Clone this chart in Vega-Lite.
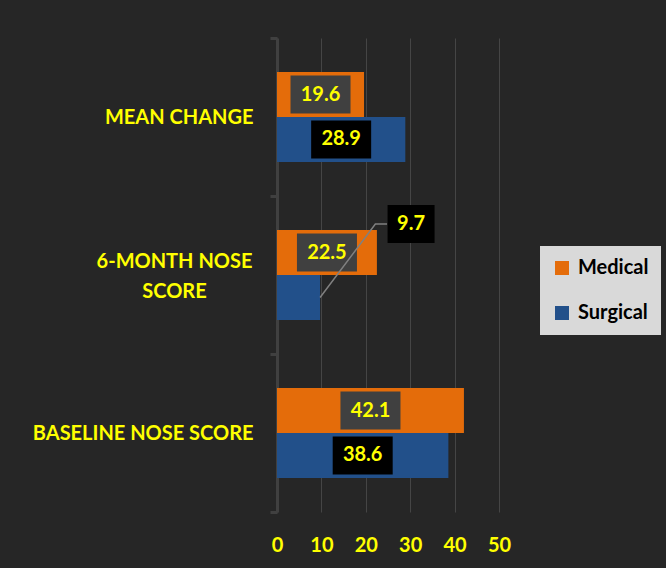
{
  "$schema": "https://vega.github.io/schema/vega-lite/v6.json",
  "width": 222,
  "height": 474,
  "autosize": {"type": "none"},
  "padding": {"left": 277, "top": 38, "right": 167, "bottom": 56},
  "background": "#262626",
  "config": {"view": {"stroke": null}, "font": "Lato"},
  "data": {
    "values": [
      {"Category": "MEAN CHANGE", "Series": "Medical", "Value": 19.6},
      {"Category": "MEAN CHANGE", "Series": "Surgical", "Value": 28.9},
      {"Category": "6-MONTH NOSE SCORE", "Series": "Medical", "Value": 22.5},
      {"Category": "6-MONTH NOSE SCORE", "Series": "Surgical", "Value": 9.7},
      {"Category": "BASELINE NOSE SCORE", "Series": "Medical", "Value": 42.1},
      {"Category": "BASELINE NOSE SCORE", "Series": "Surgical", "Value": 38.6}
    ]
  },
  "encoding": {
    "y": {
      "field": "Category",
      "type": "nominal",
      "sort": ["MEAN CHANGE", "6-MONTH NOSE SCORE", "BASELINE NOSE SCORE"],
      "scale": {"paddingInner": 0, "paddingOuter": 0},
      "axis": {
        "title": null,
        "grid": false,
        "domainColor": "#404040",
        "domainWidth": 3,
        "tickColor": "#404040",
        "tickWidth": 3,
        "tickSize": 7,
        "tickBand": "extent",
        "labelColor": "#FFFF00",
        "labelFont": "Lato",
        "labelFontWeight": "bold",
        "labelFontSize": 20,
        "labelPadding": {"condition": {"test": "datum.value == '6-MONTH NOSE SCORE'", "value": 96}, "value": 17},
        "labelAlign": {"condition": {"test": "datum.value == '6-MONTH NOSE SCORE'", "value": "center"}, "value": "right"},
        "labelOffset": {"condition": {"test": "datum.value == '6-MONTH NOSE SCORE'", "value": -14}, "value": 0},
        "labelLineHeight": 30,
        "labelLimit": 300,
        "labelExpr": "datum.value == '6-MONTH NOSE SCORE' ? ['6-MONTH NOSE', 'SCORE'] : datum.value"
      }
    },
    "yOffset": {
      "field": "Series",
      "type": "nominal",
      "sort": ["Medical", "Surgical"],
      "scale": {"paddingInner": 0, "paddingOuter": 0.7556}
    }
  },
  "layer": [
    {
      "mark": {"type": "bar", "strokeWidth": 0},
      "encoding": {
        "x": {
          "field": "Value",
          "type": "quantitative",
          "title": null,
          "scale": {"domain": [0, 50], "nice": false},
          "axis": {
            "title": null,
            "values": [0, 10, 20, 30, 40, 50],
            "domain": false,
            "ticks": false,
            "tickSize": 0,
            "gridColor": "#454545",
            "gridWidth": 1,
            "labelColor": "#FFFF00",
            "labelFont": "Lato",
            "labelFontWeight": "bold",
            "labelFontSize": 20,
            "labelPadding": 23,
            "labelFlush": false
          }
        },
        "color": {
          "field": "Series",
          "type": "nominal",
          "sort": ["Medical", "Surgical"],
          "scale": {"range": ["#E46C0A", "#22508A"]},
          "legend": {
            "title": null,
            "orient": "none",
            "legendX": 263,
            "legendY": 208,
            "fillColor": "#D9D9D9",
            "padding": 12,
            "symbolType": "square",
            "symbolSize": 196,
            "symbolStrokeWidth": 0,
            "symbolOpacity": 1,
            "labelFont": "Lato",
            "labelFontWeight": "bold",
            "labelFontSize": 20,
            "labelColor": "#000000",
            "labelOffset": 6,
            "rowPadding": 25
          }
        }
      }
    },
    {
      "transform": [
        {"filter": "!(datum.Category == '6-MONTH NOSE SCORE' && datum.Series == 'Surgical')"},
        {"calculate": "datum.Value / 2", "as": "Half"}
      ],
      "mark": {"type": "point", "shape": "M -1 -0.633 H 1 V 0.633 H -1 Z", "size": 3600, "filled": true, "opacity": 1, "strokeWidth": 0},
      "encoding": {
        "x": {"field": "Half", "type": "quantitative", "title": null},
        "fill": {"condition": {"test": "datum.Series == 'Medical'", "value": "#404040"}, "value": "#000000"}
      }
    },
    {
      "transform": [
        {"filter": "!(datum.Category == '6-MONTH NOSE SCORE' && datum.Series == 'Surgical')"},
        {"calculate": "datum.Value / 2", "as": "Half"}
      ],
      "mark": {"type": "text", "font": "Lato", "fontWeight": "bold", "fontSize": 20, "color": "#FFFF00", "align": "center", "baseline": "middle"},
      "encoding": {
        "x": {"field": "Half", "type": "quantitative", "title": null},
        "text": {"field": "Value", "type": "quantitative", "format": ".1f"}
      }
    },
    {
      "transform": [
        {"filter": "datum.Category == '6-MONTH NOSE SCORE' && datum.Series == 'Surgical'"}
      ],
      "mark": {"type": "point", "shape": "M 0 0 L 1.843 -2.45 L 2.233 -2.45", "size": 3600, "filled": false, "color": "#808080", "strokeWidth": 1.5, "opacity": 1},
      "encoding": {
        "x": {"field": "Value", "type": "quantitative", "title": null}
      }
    },
    {
      "transform": [
        {"filter": "datum.Category == '6-MONTH NOSE SCORE' && datum.Series == 'Surgical'"}
      ],
      "mark": {"type": "point", "shape": "M 2.25 -3.083 H 3.817 V -1.817 H 2.25 Z", "size": 3600, "filled": true, "color": "#000000", "opacity": 1, "strokeWidth": 0},
      "encoding": {
        "x": {"field": "Value", "type": "quantitative", "title": null}
      }
    },
    {
      "transform": [
        {"filter": "datum.Category == '6-MONTH NOSE SCORE' && datum.Series == 'Surgical'"}
      ],
      "mark": {"type": "text", "font": "Lato", "fontWeight": "bold", "fontSize": 20, "color": "#FFFF00", "align": "center", "baseline": "middle", "dx": 91, "dy": -73.5},
      "encoding": {
        "x": {"field": "Value", "type": "quantitative", "title": null},
        "text": {"field": "Value", "type": "quantitative", "format": ".1f"}
      }
    }
  ]
}
